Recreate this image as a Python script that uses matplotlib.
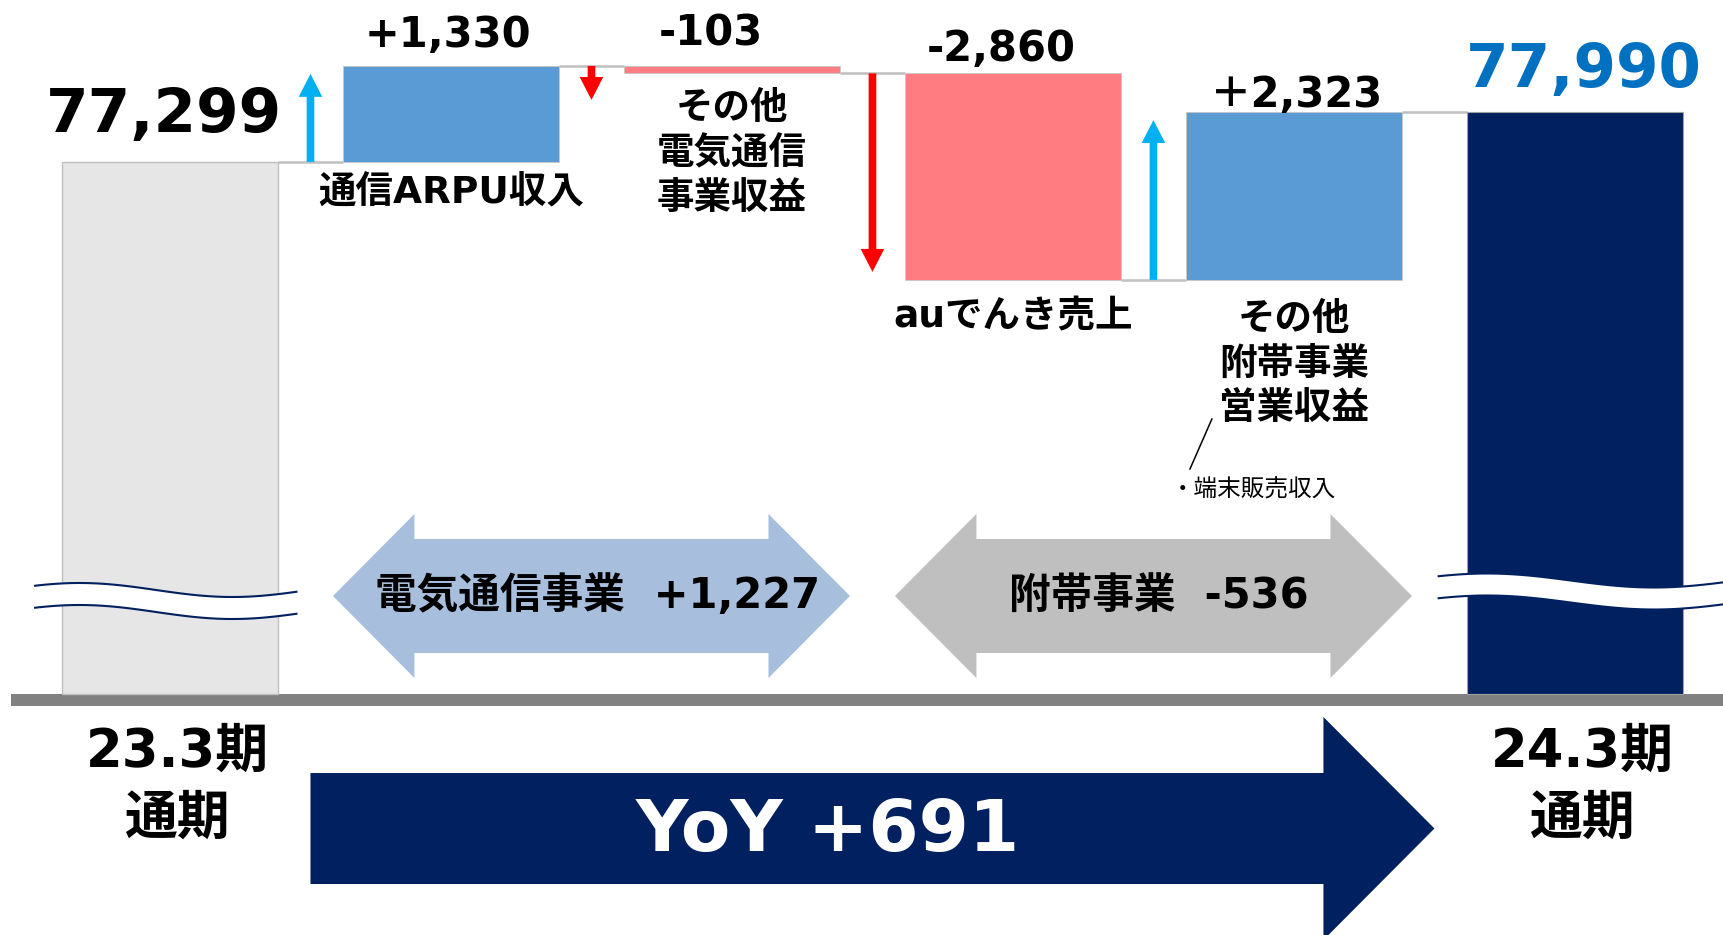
import numpy as np
import matplotlib.pyplot as plt
import matplotlib.transforms as mtransforms
from matplotlib.patches import Polygon

plt.rcParams['font.family'] = ['DejaVu Sans', 'Noto Sans CJK JP']

# values (億円)
periods = ['23.3期\n通期', '24.3期\n通期']
start_value = 77299
end_value = 77990
items = ['通信ARPU収入', 'その他\n電気通信\n事業収益', 'auでんき売上', 'その他\n附帯事業\n営業収益']
deltas = [1330, -103, -2860, 2323]
delta_labels = ['+1,330', '-103', '-2,860', '＋2,323']
segments = ['電気通信事業', '附帯事業']
segment_totals = [1227, -536]
yoy = 691
note = '・端末販売収入'

W, H = 1723, 935
VPP = 13.85          # value units per pixel
floor = 69930        # bottom of the broken bars
ytop = floor + 694 * VPP
PT = 0.72            # points per pixel at dpi 100
bw = 0.77

fig = plt.figure(figsize=(W / 100, H / 100), dpi=100)
ax = fig.add_axes([0, 0, 1, 1])
ax.axis('off')
blend = mtransforms.blended_transform_factory(ax.transData, ax.transAxes)


def fy(p):
    # pixel row -> axes fraction
    return 1 - p / H


levels = start_value + np.concatenate([[0], np.cumsum(deltas)])

# bars
ax.bar(0, start_value - floor, bottom=floor, width=bw, color='#E6E6E6',
       edgecolor='#BFBFBF', lw=1, zorder=2)
for i, d in enumerate(deltas):
    lo = min(levels[i], levels[i + 1])
    ax.bar(i + 1, abs(d), bottom=lo, width=bw,
           color='#5B9BD5' if d > 0 else '#FF7C80',
           edgecolor='#C8C8C8', lw=0.6, zorder=2)
ax.bar(5, end_value - floor, bottom=floor, width=bw, color='#002060',
       edgecolor='#A0A0A0', lw=0.8, zorder=2)

# connectors
xs = np.arange(5)
ax.hlines(levels, xs + bw / 2, xs + 1 - bw / 2, color='#BFBFBF', lw=1.8, zorder=1)

# base line
ax.axhspan(floor - 12 * VPP, floor, xmin=11 / W, xmax=1, color='#808080', lw=0, zorder=1)

# up/down arrows between bars
for i, d in enumerate(deltas):
    sgn = np.sign(d)
    length = max(abs(d) / VPP - 8, 34) * VPP
    ax.annotate('', xy=(i + 0.5, levels[i] + sgn * length), xytext=(i + 0.5, levels[i]),
                arrowprops=dict(arrowstyle='simple,head_length=1.65,head_width=1.7,tail_width=0.55',
                                mutation_scale=10, color='#00B0F0' if d > 0 else '#FF0000',
                                shrinkA=0, shrinkB=0, lw=0))

# value labels
val_offsets = [(-3, 19), (-21, 20), (-12, 12), (3, 5)]
for i, (lab, (dx, dy)) in enumerate(zip(delta_labels, val_offsets)):
    top = max(levels[i], levels[i + 1])
    ax.annotate(lab, xy=(i + 1, top), xytext=(dx * PT, dy * PT), textcoords='offset points',
                ha='center', va='baseline', fontsize=30, fontweight='bold')

ax.annotate(f'{start_value:,}', xy=(0, start_value), xytext=(-6 * PT, 30 * PT),
            textcoords='offset points', ha='center', va='baseline',
            fontsize=44, fontweight='bold', color='black')
ax.annotate(f'{end_value:,}', xy=(5, end_value), xytext=(9 * PT, 25 * PT),
            textcoords='offset points', ha='center', va='baseline',
            fontsize=44, fontweight='bold', color='#0070C0')

# item labels under the bars
lab_offsets = [14, 18, 20, 22]
for i, (lab, off) in enumerate(zip(items, lab_offsets)):
    bottom = min(levels[i], levels[i + 1])
    ax.annotate(lab, xy=(i + 1, bottom), xytext=(0, -off * PT), textcoords='offset points',
                ha='center', va='top', fontsize=27, fontweight='bold', linespacing=1.31)

# period labels
for x, lab in zip([0, 5], periods):
    ax.annotate(lab, xy=(x, floor), xytext=(7 * PT, -32 * PT), textcoords='offset points',
                ha='center', va='top', fontsize=38, fontweight='bold', linespacing=1.36)

# axis break waves
for i, left, right, yc in [(0, -0.48, 0.45, 590), (5, -0.485, 0.53, 580.5)]:
    t = np.linspace(0, 1, 120)
    wx = i + left + (right - left) * t
    off = -7 * np.cos(2 * np.pi * (t - 0.17) / 1.17)
    top = fy(yc + off)
    bot = fy(yc + 22 + off)
    band = np.column_stack([np.r_[wx, wx[::-1]], np.r_[top, bot[::-1]]])
    ax.add_patch(Polygon(band, closed=True, transform=blend, facecolor='white',
                         edgecolor='none', zorder=3))
    ax.plot(wx, top, transform=blend, color='#002060', lw=1.5, zorder=4)
    ax.plot(wx, bot, transform=blend, color='#002060', lw=1.5, zorder=4)

# segment double arrows
seg_spans = [(1, 2), (3, 4)]
for (a, b), name, tot, col in zip(seg_spans, segments, segment_totals, ['#A7BEDD', '#BFBFBF']):
    x0, x1 = a - 0.42, b + 0.42
    hl = 0.29
    yc, sh, hh = fy(596), 57 / H, 82 / H
    verts = [(x0, yc), (x0 + hl, yc + hh), (x0 + hl, yc + sh), (x1 - hl, yc + sh),
             (x1 - hl, yc + hh), (x1, yc), (x1 - hl, yc - hh), (x1 - hl, yc - sh),
             (x0 + hl, yc - sh), (x0 + hl, yc - hh)]
    ax.add_patch(Polygon(verts, closed=True, transform=blend, facecolor=col,
                         edgecolor='none', zorder=2))
    ax.text((x0 + x1) / 2 + 0.02, yc, f'{name}  {tot:+,}', transform=blend,
            ha='center', va='center', fontsize=30, fontweight='bold', zorder=3)

# YoY arrow
x0, x1, hb = 0.5, 4.5, 4.105
yc, sh, hh = fy(828.5), 55.5 / H, 111.5 / H
verts = [(x0, yc + sh), (hb, yc + sh), (hb, yc + hh), (x1, yc),
         (hb, yc - hh), (hb, yc - sh), (x0, yc - sh)]
ax.add_patch(Polygon(verts, closed=True, transform=blend, facecolor='#002060',
                     edgecolor='none', zorder=2))
ax.text((x0 + hb) / 2 + 0.04, fy(832), f'YoY {yoy:+,}', transform=blend,
        ha='center', va='center', fontsize=52, fontweight='bold', color='white', zorder=3)

# note for the other ancillary revenue
ax.plot([4 - 0.292, 4 - 0.370], [fy(419), fy(469)], transform=blend, color='black', lw=1.1)
ax.text(4 - 0.438, fy(490), note, transform=blend, ha='left', va='center',
        fontsize=17, family=['Noto Sans CJK JP', 'DejaVu Sans'])

ax.set_xlim(-0.605, 5.527)
ax.set_ylim(ytop - H * VPP, ytop)
fig.savefig('out.png', dpi=100)
